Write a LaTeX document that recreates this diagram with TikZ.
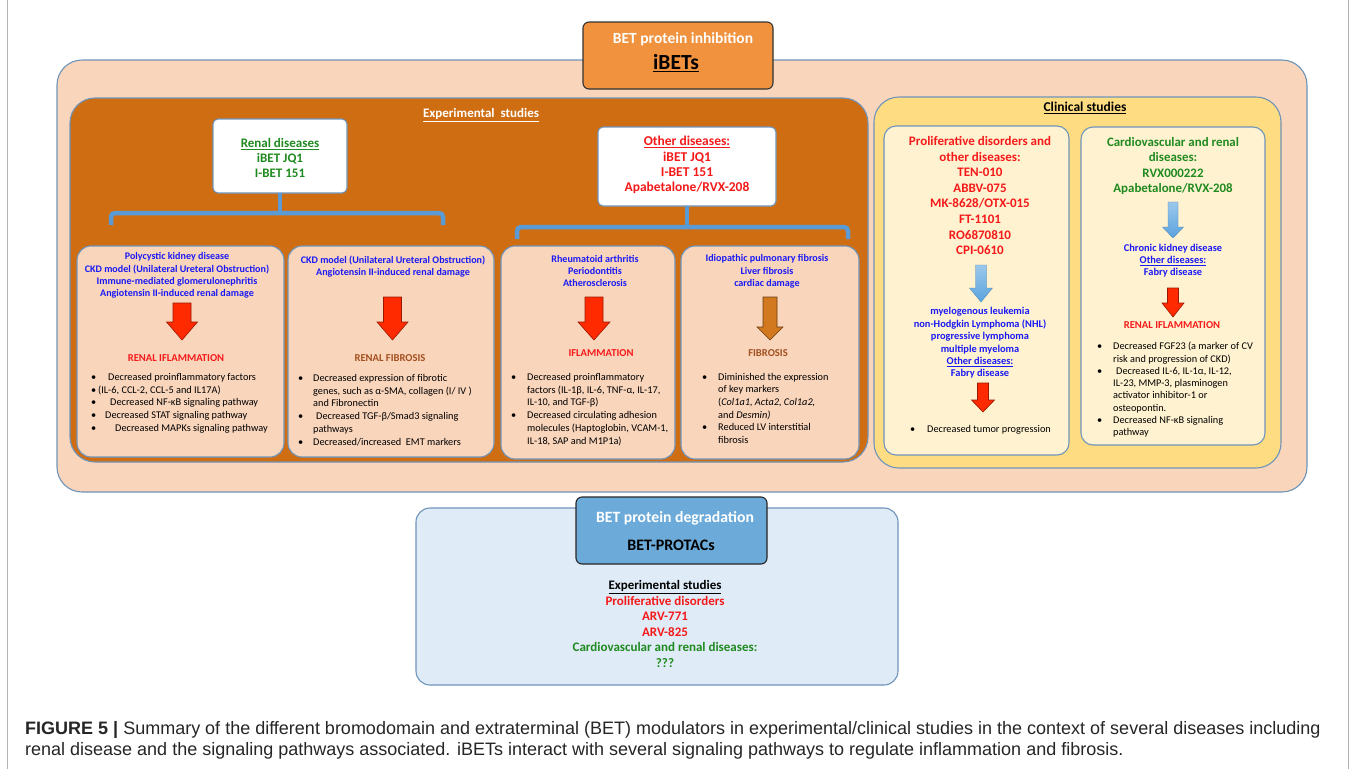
\documentclass[tikz,border=0pt]{standalone}
\usepackage{fontspec}
\setmainfont{Carlito}
\newfontfamily\capfont{Liberation Sans}
\definecolor{topor}{HTML}{F0923E}
\definecolor{peach}{HTML}{F9D5BC}
\definecolor{dkor}{HTML}{CF6D12}
\definecolor{bord}{HTML}{6F94BA}
\definecolor{yel}{HTML}{FEDD82}
\definecolor{cream}{HTML}{FFF2D0}
\definecolor{ltblue}{HTML}{DFEBF6}
\definecolor{midblue}{HTML}{6BAAD9}
\definecolor{brk}{HTML}{5B9BD5}
\definecolor{tblue}{HTML}{1A1AF5}
\definecolor{tred}{HTML}{F51A1A}
\definecolor{tgrn}{HTML}{1F8A1F}
\definecolor{tbrn}{HTML}{A3501F}
\definecolor{arred}{HTML}{FF2A00}
\definecolor{arbrn}{HTML}{D2781E}
\definecolor{arblue}{HTML}{5AA3DE}
\newcommand\bx[6]{\node[box,#2,minimum width={#5pt-#3pt},minimum height={#6pt-#4pt}] (#1) at (#3,#4) {};}
% x, ytop, ybot, shaft width, head width, head length, style
\newcommand\dnarrow[7]{\path[#7] ({#1-#4/2},#2) -- ({#1+#4/2},#2) -- ({#1+#4/2},{#3-#6}) -- ({#1+#5/2},{#3-#6}) -- (#1,#3) -- ({#1-#5/2},{#3-#6}) -- ({#1-#4/2},{#3-#6}) -- cycle;}
\newcommand\bu{\rlap{•}}
\begin{document}
\begin{tikzpicture}[x=1pt,y=-1pt,
  box/.style={draw=bord, line width=1.1pt, inner sep=0pt, outer sep=0pt, anchor=north west},
  hdr/.style={font=\bfseries\fontsize{10.1}{12.3}\selectfont, text=tblue, align=center, inner sep=0pt},
  lst/.style={font=\fontsize{10.3}{12.75}\selectfont, align=left, inner sep=0pt, anchor=north west},
  lbl/.style={font=\bfseries\fontsize{10.6}{12}\selectfont, inner sep=0pt},
  brkline/.style={draw=brk, line width=4.5pt, rounded corners=4pt},
  redarr/.style={fill=arred, draw=arred!60!black, line width=0.6pt},
  brnarr/.style={fill=arbrn, draw=arbrn!50!black, line width=0.6pt},
  bluarr/.style={top color=arblue!60, bottom color=arblue, draw=arblue!80!black, line width=0.3pt},
]
\useasboundingbox (0,0) rectangle (1355,769);
\fill[white] (0,0) rectangle (1355,769);
\draw[gray!60, line width=0.8pt] (7,0) -- (7,769) (1348,0) -- (1348,769);

% main containers
\bx{main}{fill=peach, rounded corners=25pt}{57}{60}{1307}{492}
\bx{exp}{fill=dkor, rounded corners=25pt}{70}{98}{868}{462}
\bx{clin}{fill=yel, rounded corners=25pt}{874}{97}{1281}{468}
\bx{top}{fill=topor, draw=black!80, rounded corners=6pt}{583}{22}{773}{89}
\node[font=\bfseries\fontsize{15.5}{18}\selectfont, text=white, inner sep=0pt] (toptxt) at (683,39) {BET protein inhibition};
\node[font=\bfseries\fontsize{21.5}{24}\selectfont, inner sep=0pt] (ibets) at (676,63) {\underline{iBETs}};

\node[font=\bfseries\fontsize{13}{15}\selectfont, text=white, inner sep=0pt] (exptitle) at (481,115) {\underline{Experimental\ \ studies}};
\node[font=\bfseries\fontsize{13.5}{15}\selectfont, inner sep=0pt] (clintitle) at (1085,108) {\underline{Clinical studies}};

% white boxes
\bx{renal}{fill=white, rounded corners=5pt}{213}{119}{347}{193}
\node[font=\bfseries\fontsize{13}{15}\selectfont, text=tgrn, align=center, inner sep=0pt] (renaltxt) at (280,158) {\underline{Renal diseases}\\iBET JQ1\\I-BET 151};
\bx{other}{fill=white, rounded corners=5pt}{598}{127}{776}{206}
\node[font=\bfseries\fontsize{13.5}{15.3}\selectfont, text=tred, align=center, inner sep=0pt] (othertxt) at (687,165) {\underline{Other diseases:}\\iBET JQ1\\I-BET 151\\Apabetalone/RVX-208};

% brackets
\coordinate (b1l) at (111,225); \coordinate (b1r) at (443,225);
\draw[brkline] (b1l) -- (111,213) -- (443,213) -- (b1r);
\draw[brkline, rounded corners=0pt] (renal.south) -- (renal.south |- 0,213);
\coordinate (b2l) at (517,239); \coordinate (b2r) at (848,239);
\draw[brkline] (b2l) -- (517,227) -- (848,227) -- (b2r);
\draw[brkline, rounded corners=0pt] (other.south) -- (other.south |- 0,227);

% sub boxes
\bx{s1}{fill=peach, rounded corners=14pt}{77}{246}{284}{457}
\bx{s2}{fill=peach, rounded corners=14pt}{288}{246}{494}{457}
\bx{s3}{fill=peach, rounded corners=14pt}{501}{246}{675}{459}
\bx{s4}{fill=peach, rounded corners=14pt}{681}{246}{859}{459}

% sub box 1
\node[hdr] (h1) at (177,275.5) {Polycystic kidney disease\\CKD model (Unilateral Ureteral Obstruction)\\Immune-mediated glomerulonephritis\\Angiotensin II-induced renal damage};
\dnarrow{182}{303}{340}{18}{31}{18}{redarr}
\node[lbl, text=tred] (r1) at (176,358) {RENAL IFLAMMATION};
\node[lst] (l1) at (91,373) {\bu\hspace*{17pt}Decreased proinflammatory factors\\
\bu\hspace*{7pt}(IL-6, CCL-2, CCL-5 and IL17A)\\
\bu\hspace*{19pt}Decreased NF-κB signaling pathway\\
\bu\hspace*{14pt}Decreased STAT signaling pathway\\
\bu\hspace*{24pt}Decreased MAPKs signaling pathway};

% sub box 2
\node[hdr] (h2) at (393,266.5) {CKD model (Unilateral Ureteral Obstruction)\\Angiotensin II-induced renal damage};
\dnarrow{392.5}{297}{340}{18}{31}{18}{redarr}
\node[lbl, text=tbrn] (r2) at (390,358) {RENAL FIBROSIS};
\node[lst] (l2) at (298,374) {\bu\hspace*{15pt}Decreased expression of fibrotic\\
\hspace*{15pt}genes, such as α-SMA, collagen (I/ IV )\\
\hspace*{15pt}and Fibronectin\\
\bu\hspace*{18pt}Decreased TGF-β/Smad3 signaling\\
\hspace*{15pt}pathways\\
\bu\hspace*{15pt}Decreased/increased\ \ EMT markers};

% sub box 3
\node[hdr] (h3) at (595,271) {Rheumatoid arthritis\\Periodontitis\\Atherosclerosis};
\dnarrow{594}{297}{340}{18}{32}{18}{redarr}
\node[lbl, text=tred] (r3) at (601,353) {IFLAMMATION};
\node[lst] (l3) at (511,373) {\bu\hspace*{16pt}Decreased proinflammatory\\
\hspace*{16pt}factors (IL-1β, IL-6, TNF-α, IL-17,\\
\hspace*{16pt}IL-10, and TGF-β)\\
\bu\hspace*{16pt}Decreased circulating adhesion\\
\hspace*{16pt}molecules (Haptoglobin, VCAM-1,\\
\hspace*{16pt}IL-18, SAP and M1P1a)};

% sub box 4
\node[hdr] (h4) at (767,271.5) {Idiopathic pulmonary fibrosis\\Liver fibrosis\\cardiac damage};
\dnarrow{770}{297}{340}{14}{26}{13}{brnarr}
\node[lbl, text=tbrn] (r4) at (768,353) {FIBROSIS};
\node[lst, font=\fontsize{10.3}{12.6}\selectfont] (l4) at (702,373) {\bu\hspace*{16pt}Diminished the expression\\
\hspace*{16pt}of key markers\\
\hspace*{16pt}(\textit{Col1a1, Acta2, Col1a2,}\\
\hspace*{16pt}and \textit{Desmin)}\\
\bu\hspace*{16pt}Reduced LV interstitial\\
\hspace*{16pt}fibrosis};

% clinical boxes
\bx{c1}{fill=cream, rounded corners=12pt}{884}{126}{1069}{455}
\bx{c2}{fill=cream, rounded corners=12pt}{1081}{127}{1265}{445}

\node[font=\bfseries\fontsize{13}{15.6}\selectfont, text=tred, align=center, inner sep=0pt] (c1txt) at (980,195.5) {Proliferative disorders and\\other diseases:\\TEN-010\\ABBV-075\\MK-8628/OTX-015\\FT-1101\\RO6870810\\CPI-0610};
\dnarrow{981}{265}{302}{11}{23}{14}{bluarr}
\node[hdr, font=\bfseries\fontsize{10.4}{12.4}\selectfont] (c1dis) at (980,343) {myelogenous leukemia\\non-Hodgkin Lymphoma (NHL)\\progressive lymphoma\\multiple myeloma\\\underline{Other diseases:}\\Fabry disease};
\dnarrow{983}{383}{412}{11}{23}{12}{redarr}
\node[lst] (c1l) at (910,425) {\bu\hspace*{17pt}Decreased tumor progression};

\node[font=\bfseries\fontsize{12.9}{15.3}\selectfont, text=tgrn, align=center, inner sep=0pt] (c2txt) at (1173,166) {Cardiovascular and renal\\diseases:\\RVX000222\\Apabetalone/RVX-208};
\dnarrow{1173}{202}{238}{10}{21}{11}{bluarr}
\node[hdr, font=\bfseries\fontsize{10.4}{12}\selectfont] (c2dis) at (1173,261) {Chronic kidney disease\\\underline{Other diseases:}\\Fabry disease};
\dnarrow{1173}{288}{317}{11}{22}{14}{redarr}
\node[lbl, text=tred] (c2r) at (1172,325) {RENAL IFLAMMATION};
\node[lst, font=\fontsize{10.3}{12.3}\selectfont] (c2l) at (1097,342) {\bu\hspace*{16pt}Decreased FGF23 (a marker of CV\\
\hspace*{16pt}risk and progression of CKD)\\
\bu\hspace*{19pt}Decreased IL-6, IL-1α, IL-12,\\
\hspace*{16pt}IL-23, MMP-3, plasminogen\\
\hspace*{16pt}activator inhibitor-1 or\\
\hspace*{16pt}osteopontin.\\
\bu\hspace*{16pt}Decreased NF-κB signaling\\
\hspace*{16pt}pathway};

% bottom
\bx{deg}{fill=ltblue, rounded corners=14pt}{416}{508}{898}{685}
\bx{degtop}{fill=midblue, draw=black!85, rounded corners=6pt}{576}{497}{767}{564}
\node[font=\bfseries\fontsize{15.7}{18}\selectfont, text=white, inner sep=0pt] (degt1) at (675,518) {BET protein degradation};
\node[font=\bfseries\fontsize{16}{18}\selectfont, inner sep=0pt] (degt2) at (671,545) {BET-PROTACs};
\node[font=\bfseries\fontsize{13}{15.6}\selectfont, align=center, inner sep=0pt] (degtxt) at (665,624) {\underline{Experimental studies}\\\textcolor{tred}{Proliferative disorders}\\\textcolor{tred}{ARV-771}\\\textcolor{tred}{ARV-825}\\\textcolor{tgrn}{Cardiovascular and renal diseases:}\\\textcolor{tgrn}{???}};

% caption
\node[font=\capfont\fontsize{18}{21}\selectfont, align=left, inner sep=0pt, anchor=north west, text=black!85] (cap) at (25,721.5) {\textbf{FIGURE 5 |} Summary of the different bromodomain and extraterminal (BET) modulators in experimental/clinical studies in the context of several diseases including\\renal disease and the signaling pathways associated. iBETs interact with several signaling pathways to regulate inflammation and fibrosis.};
\end{tikzpicture}
\end{document}
